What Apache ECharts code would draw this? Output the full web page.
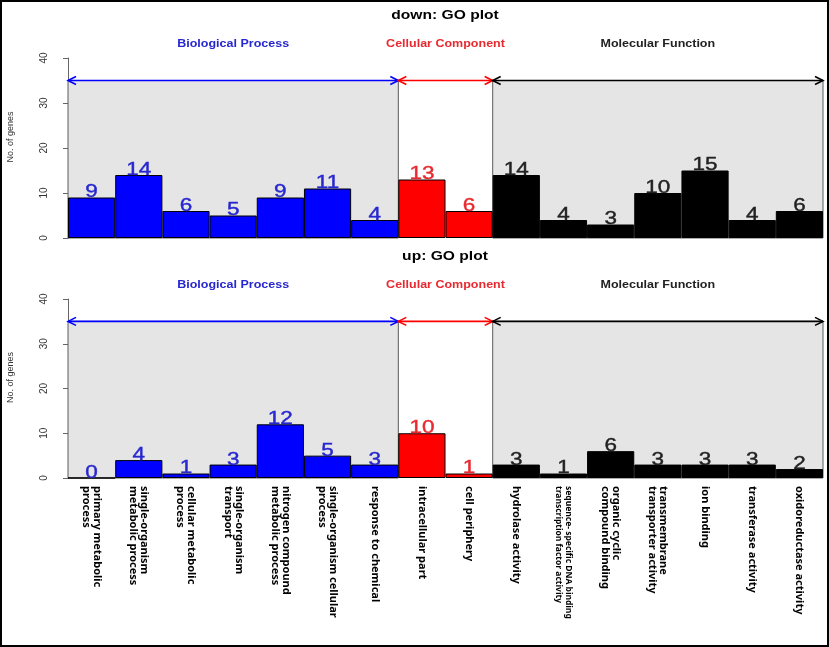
<!DOCTYPE html>
<html><head><meta charset="utf-8">
<script src="https://cdn.jsdelivr.net/npm/echarts@6/dist/echarts.min.js"></script>
<style>html,body{margin:0;padding:0;background:#fff}#c{width:829px;height:647px}</style>
</head><body><div id="c"></div>
<script>
const categories = [
  'primary metabolic\nprocess',
  'single-organism\nmetabolic process',
  'cellular metabolic\nprocess',
  'single-organism\ntransport',
  'nitrogen compound\nmetabolic process',
  'single-organism cellular\nprocess',
  'response to chemical',
  'intracellular part',
  'cell periphery',
  'hydrolase activity',
  'sequence- specific DNA binding\ntranscription factor activity',
  'organic cyclic\ncompound binding',
  'transmembrane\ntransporter activity',
  'ion binding',
  'transferase activity',
  'oxidoreductase activity'
];
const smallLabels = ['sequence- specific DNA binding\ntranscription factor activity'];
const groupNames = ['Biological Process', 'Cellular Component', 'Molecular Function'];
const groupSizes = [7, 2, 7];
const groupColors = ['#0000ff', '#ff0000', '#000000'];
const groupTextColors = ['#2727d0', '#e82a30', '#222222'];
const shadedGroups = [0, 2];
const downValues = [9, 14, 6, 5, 9, 11, 4, 13, 6, 14, 4, 3, 10, 15, 4, 6];
const upValues = [0, 4, 1, 3, 12, 5, 3, 10, 1, 3, 1, 6, 3, 3, 3, 2];
const yTicks = [0, 10, 20, 30, 40];
const arrowLevel = 35;
const panelTitles = ['down: GO plot', 'up: GO plot'];
const panelValues = [downValues, upValues];

// derived helpers
const groupStart = [];
let acc = 0;
groupSizes.forEach(s => { groupStart.push(acc); acc += s; });
const groupOfCat = [];
groupSizes.forEach((s, g) => { for (let k = 0; k < s; k++) groupOfCat.push(g); });
const nCat = categories.length;

const SX = 1.25; // horizontal stretch of the reference image text
const FONT = '"Liberation Sans", Arial, sans-serif';

const grids = [
  { left: 68, right: 6, top: 58, height: 180, outerBoundsMode: 'none', containLabel: false },
  { left: 68, right: 6, top: 299, height: 179, outerBoundsMode: 'none', containLabel: false }
];

const xAxes = [], yAxes = [], series = [];

panelValues.forEach((vals, p) => {
  const catIdx = xAxes.length;
  xAxes.push({
    type: 'category', gridIndex: p, data: categories, boundaryGap: true,
    axisLine: { show: false }, axisTick: { show: false },
    axisLabel: p === 1 ? {
      show: true, interval: 0, rotate: -90, margin: 8,
      fontFamily: '"Noto Sans", sans-serif', fontWeight: 'bold', fontSize: 11,
      lineHeight: 11, color: '#000',
      formatter: v => smallLabels.includes(v) ? '{s|' + v.split('\n').join('}\n{s|') + '}' : v,
      rich: { s: { fontSize: 8.5, lineHeight: 10, fontWeight: 'bold', fontFamily: '"Noto Sans", sans-serif', color: '#000' } }
    } : { show: false }
  });
  const valIdx = xAxes.length;
  xAxes.push({ type: 'value', gridIndex: p, min: 0, max: nCat, show: false });
  yAxes.push({
    type: 'value', gridIndex: p, min: yTicks[0], max: yTicks[yTicks.length - 1], interval: 10,
    offset: 5,
    name: 'No. of genes', nameLocation: 'middle', nameGap: 48, nameRotate: 90,
    nameTextStyle: { fontFamily: FONT, fontSize: 9, color: '#333', padding: [0, 0, 0, 22] },
    axisLine: { show: true, lineStyle: { color: '#666', width: 1 } },
    axisTick: { show: true, length: 5, lineStyle: { color: '#666' } },
    axisLabel: { rotate: 90, margin: 14, fontFamily: FONT, fontSize: 10, color: '#333' },
    splitLine: { show: false }
  });

  // shaded backgrounds
  series.push({
    type: 'custom', xAxisIndex: valIdx, yAxisIndex: p, z: 1, silent: true,
    data: shadedGroups.map(g => [groupStart[g], groupStart[g] + groupSizes[g], arrowLevel]),
    renderItem: (params, api) => {
      const a = api.coord([api.value(0), api.value(2)]);
      const b = api.coord([api.value(1), 0]);
      return { type: 'rect', shape: { x: a[0], y: a[1], width: b[0] - a[0], height: b[1] - a[1] },
        style: { fill: '#e5e5e5', stroke: '#5a5a5a', lineWidth: 1 } };
    }
  });

  // bars
  series.push({
    type: 'bar', xAxisIndex: catIdx, yAxisIndex: p, z: 2, barCategoryGap: '0%',
    data: vals.map((v, i) => ({ value: v, itemStyle: { color: groupColors[groupOfCat[i]] } })),
    itemStyle: { borderColor: '#000', borderWidth: 1 }
  });

  // arrows
  series.push({
    type: 'custom', xAxisIndex: valIdx, yAxisIndex: p, z: 3, silent: true,
    data: groupNames.map((n, g) => [groupStart[g], groupStart[g] + groupSizes[g], arrowLevel, g]),
    renderItem: (params, api) => {
      const a = api.coord([api.value(0), api.value(2)]);
      const b = api.coord([api.value(1), api.value(2)]);
      const col = groupColors[api.value(3)];
      const st = { stroke: col, lineWidth: 1.6, fill: 'none' };
      return { type: 'group', children: [
        { type: 'line', shape: { x1: a[0], y1: a[1], x2: b[0], y2: b[1] }, style: st },
        { type: 'polyline', shape: { points: [[a[0] + 8, a[1] - 4], [a[0], a[1]], [a[0] + 8, a[1] + 4]] }, style: st },
        { type: 'polyline', shape: { points: [[b[0] - 8, b[1] - 4], [b[0], b[1]], [b[0] - 8, b[1] + 4]] }, style: st }
      ] };
    }
  });

  // value labels
  series.push({
    type: 'custom', xAxisIndex: valIdx, yAxisIndex: p, z: 4, silent: true,
    data: vals.map((v, i) => [i + 0.5, v, groupOfCat[i]]),
    renderItem: (params, api) => {
      const c = api.coord([api.value(0), api.value(1)]);
      return { type: 'text', x: c[0], y: c[1] + 4, scaleX: SX,
        style: { text: String(api.value(1)), fill: groupTextColors[api.value(2)],
          font: '18px ' + FONT, align: 'center', verticalAlign: 'bottom',
          stroke: groupTextColors[api.value(2)], lineWidth: 0.4 } };
    }
  });

  // group labels
  series.push({
    type: 'custom', xAxisIndex: valIdx, yAxisIndex: p, z: 4, silent: true,
    data: groupNames.map((n, g) => [groupStart[g] + groupSizes[g] / 2, g]),
    renderItem: (params, api) => {
      const c = api.coord([api.value(0), yTicks[yTicks.length - 1]]);
      const g = api.value(1);
      return { type: 'text', x: c[0], y: c[1] - 14, scaleX: SX,
        style: { text: groupNames[g], fill: groupTextColors[g],
          font: 'bold 10px ' + FONT, align: 'center', verticalAlign: 'middle' } };
    }
  });
});

const chart = echarts.init(document.getElementById('c'), null, { renderer: 'canvas' });
chart.setOption({
  animation: false,
  backgroundColor: '#ffffff',
  grid: grids,
  xAxis: xAxes,
  yAxis: yAxes,
  series: series,
  graphic: [
    { type: 'text', x: 445, y: 16, scaleX: 1.3, style: { text: panelTitles[0], font: 'bold 12px ' + FONT, fill: '#000', align: 'center', verticalAlign: 'middle' } },
    { type: 'text', x: 445, y: 257, scaleX: 1.3, style: { text: panelTitles[1], font: 'bold 12px ' + FONT, fill: '#000', align: 'center', verticalAlign: 'middle' } },
    { type: 'rect', shape: { x: 1, y: 1, width: 827, height: 645 }, style: { fill: 'none', stroke: '#000', lineWidth: 2 }, z: 100 }
  ]
});
</script>
</body></html>
